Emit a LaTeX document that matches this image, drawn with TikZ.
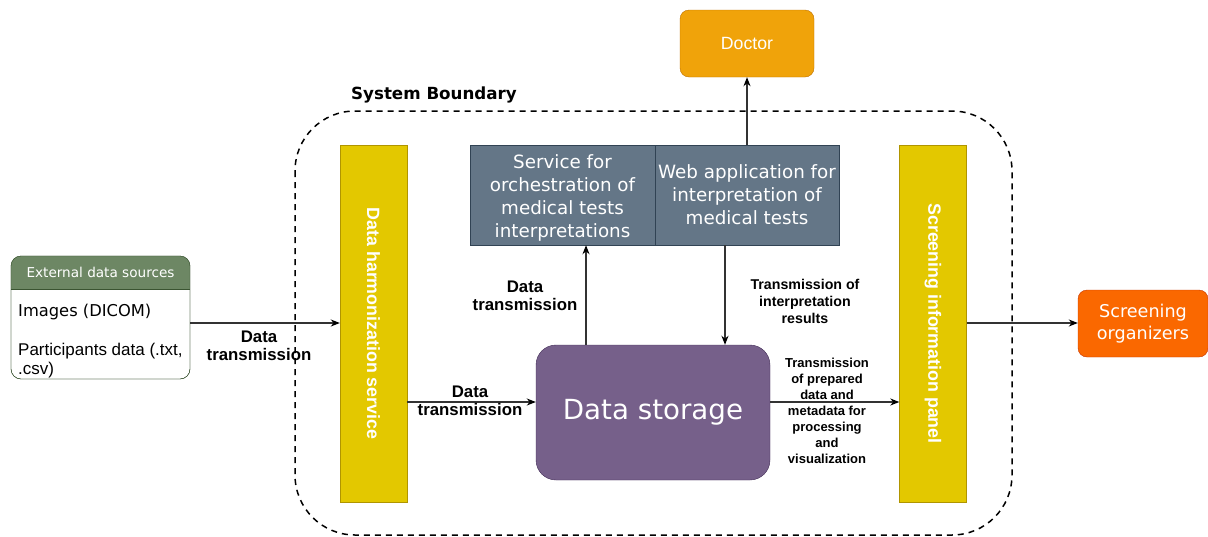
\documentclass[tikz,border=0pt]{standalone}
\usepackage{fontspec}
\setmainfont{Liberation Sans}
\newfontfamily\verd{DejaVu Sans}
\usetikzlibrary{arrows.meta}

\definecolor{docfill}{HTML}{F0A30A}
\definecolor{docline}{HTML}{BD7000}
\definecolor{barfill}{HTML}{E3C800}
\definecolor{barline}{HTML}{B09500}
\definecolor{svcfill}{HTML}{647687}
\definecolor{svcline}{HTML}{314354}
\definecolor{dbfill}{HTML}{76608A}
\definecolor{dbline}{HTML}{432D57}
\definecolor{extfill}{HTML}{6D8764}
\definecolor{extline}{HTML}{3A5431}
\definecolor{orgfill}{HTML}{FA6800}
\definecolor{orgline}{HTML}{C73500}
\definecolor{wire}{HTML}{333333}

\begin{document}
\begin{tikzpicture}[x=1pt,y=-1pt,
              >={Stealth[black,length=9pt,width=7pt]},
              every node/.style={inner sep=0pt,align=center},
              bar/.style={draw=barline,fill=barfill,minimum width=67pt,minimum height=357pt},
              svc/.style={draw=svcline,fill=svcfill,minimum width=185pt,minimum height=100pt,
                          text=white,font=\verd\fontsize{18.3}{23}\selectfont},
              actor/.style={rounded corners=9pt,text=white,minimum height=67pt},
              lbl/.style={font=\bfseries\fontsize{16.8}{18}\selectfont},
              small/.style={font=\bfseries\fontsize{14.2}{17}\selectfont},
              wire/.style={draw=wire,line width=1.3pt,->}]
    \useasboundingbox (0,0) rectangle (1208,536);

    % system boundary
    \draw [dashed,line width=1.5pt,dash pattern=on 6pt off 5pt,rounded corners=60pt]
        (295,111) rectangle (1012,535);
    \node (sysname) at (434,95) {\verd\bfseries\fontsize{16.7}{18}\selectfont System Boundary};

    % actors
    \node (doctor) [actor,draw=docline,fill=docfill,minimum width=134pt,
        font=\fontsize{17.7}{18}\selectfont] at (747,43.5) {Doctor};
    \node (orgs) [actor,draw=orgline,fill=orgfill,minimum width=130pt,
        font=\verd\fontsize{17.6}{22}\selectfont] at (1143,323.5) {Screening\\organizers};

    % external sources
    \node (ext) [draw=extline,fill=white,rounded corners=10pt,
        minimum width=179pt,minimum height=123pt] at (100.5,317.5) {};
    \begin{scope}
        \clip [rounded corners=10pt] (11,256) rectangle (190,379);
        \fill [extfill] (11,256) rectangle (190,289);
    \end{scope}
    \draw [extline] (11,289) -- (190,289);
    \draw [extline,rounded corners=10pt] (11,256) rectangle (190,379);
    \node (exthead) [text=white,font=\verd\fontsize{13.6}{15}\selectfont] at (100.5,272.5) {External data sources};
    \node (images) [anchor=west,font=\verd\fontsize{16.3}{18}\selectfont] at (18,312) {Images (DICOM)};
    \node (partic) [anchor=north west,align=left,font=\fontsize{17}{19}\selectfont] at (18,343)
        {Participants data (.txt,\\.csv)};

    % bars
    \node (harmon) [bar] at (373.5,323.5) {};
    \node [rotate=-90,text=white,font=\bfseries\fontsize{17.8}{19}\selectfont] at (harmon.center) {Data harmonization service};
    \node (panel) [bar] at (933,323.5) {};
    \node [rotate=-90,text=white,font=\bfseries\fontsize{17.8}{19}\selectfont] at (panel.center) {Screening information panel};

    % services
    \node (orch) [svc] at (562.5,195) {\\[-3pt]Service for\\orchestration of\\medical tests\\interpretations};
    \node (webapp) [svc,minimum width=184pt] at (747,195) {Web application for\\interpretation of\\medical tests};

    % storage
    \node (storage) [draw=dbline,fill=dbfill,rounded corners=20pt,minimum width=234pt,
        minimum height=135pt,text=white,font=\verd\fontsize{27.7}{34}\selectfont] at (653,412.5) {Data storage};

    % connectors
    \draw [wire] (ext.east |- 0,323) -- (harmon.west |- 0,323);
    \node [lbl] at (259,346) {Data\\transmission};
    \draw [wire] (harmon.east |- 0,402) -- (storage.west |- 0,402);
    \node [lbl] at (470,401) {Data\\transmission};
    \draw [wire] (storage.north -| 586,0) -- (orch.south -| 586,0);
    \node [lbl] at (525,296) {Data\\transmission};
    \draw [wire] (webapp.south -| 725,0) -- (storage.north -| 725,0);
    \node [small] at (805,301) {Transmission of\\interpretation\\results};
    \draw [wire] (webapp.north) -- (doctor.south);
    \draw [wire] (storage.east |- 0,402) -- (panel.west |- 0,402);
    \node [small,font=\bfseries\fontsize{13}{16}\selectfont] at (827,411) {Transmission\\of prepared\\data and\\metadata for\\processing\\and\\visualization};
    \draw [wire] (panel.east |- 0,323) -- (orgs.west |- 0,323);
\end{tikzpicture}
\end{document}
